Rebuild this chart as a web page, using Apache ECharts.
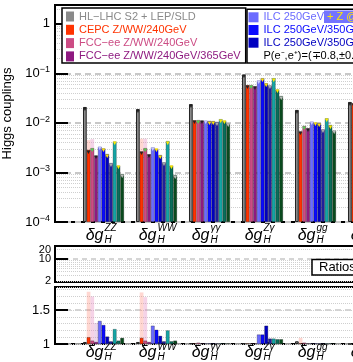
<!DOCTYPE html>
<html>
<head>
<meta charset="utf-8">
<script src="https://cdn.jsdelivr.net/npm/echarts@6/dist/echarts.min.js"></script>
<style>
  html, body { margin: 0; padding: 0; background: #fff; }
  #chart { width: 353px; height: 362px; }
</style>
</head>
<body>
<div id="chart"></div>
<script>
  // coupling groups (the last one is cut off by the picture edge)
  const couplings = ['ZZ', 'WW', 'γγ', 'Zγ', 'gg', 'tt'];

  const colliders = [
    'HL−LHC S2 + LEP/SLD',
    'CEPC Z/WW/240GeV',
    'FCC−ee Z/WW/240GeV',
    'FCC−ee Z/WW/240GeV/365GeV',
    'ILC 250GeV',
    'ILC 250GeV/350GeV',
    'ILC 250GeV/350GeV/500GeV',
    'ILC 250GeV/350GeV/500GeV/1TeV',
    'CLIC 380GeV',
    'CLIC 380GeV/1.5TeV',
    'CLIC 380GeV/1.5TeV/3TeV'
  ];
  const colors = ['#8a8a8a', '#ff3300', '#cc4c84', '#8e1a80', '#6b6bff', '#0a0aff',
                  '#0000c0', '#20209a', '#14a5a5', '#0a6e5a', '#0a4a1e'];
  const markerColors = ['#222', '#222', '#4fd24f', '#222', '#c8c8ff', '#ffe600',
                        '#ffe600', '#aaaaaa', '#ffe600', '#ffe600', '#bbbbbb'];

  // precision on the couplings (upper panel)
  const hllhc    = [0.021,   0.019,   0.024,  0.094, 0.0183, 0.0265];
  const cepc     = [0.00285, 0.00263, 0.0113, 0.058, 0.0067, 0.025];
  const fcc240   = [0.0031,  0.0031,  0.0114, 0.058, 0.0087, 0.025];
  const fcc365   = [0.00218, 0.00233, 0.0111, 0.055, 0.0078, 0.024];
  const ilc250   = [0.0033,  0.0032,  0.0111, 0.072, 0.0106, 0.025];
  const ilc350   = [0.00305, 0.0030,  0.0110, 0.080, 0.0101, 0.025];
  const ilc500   = [0.00236, 0.00225, 0.0109, 0.063, 0.0099, 0.02];
  const ilc1000  = [0.00155, 0.0016,  0.0105, 0.057, 0.0074, 0.02];
  const clic380  = [0.0042,  0.0043,  0.0119, 0.080, 0.0124, 0.03];
  const clic1500 = [0.00137, 0.00137, 0.0111, 0.047, 0.0091, 0.02];
  const clic3000 = [0.00093, 0.00089, 0.0097, 0.035, 0.0070, 0.02];
  const topValues = [hllhc, cepc, fcc240, fcc365, ilc250, ilc350, ilc500, ilc1000, clic380, clic1500, clic3000];

  // pale bars behind CEPC / FCC-ee
  const paleCepcTop   = [0.0045, 0.0048, null, null, null, null];
  const paleFcc240Top = [0.0047, 0.0048, null, null, null, null];

  // ratios (lower panel)
  const hllhcR    = [1.03, 1.03, 1.01, 1.01, 1.04, 1.0];
  const cepcR     = [1.10, 1.09, 1.01, 1.01, 1.01, 1.0];
  const fcc240R   = [1.05, 1.05, 1.02, 1.01, 1.02, 1.0];
  const fcc365R   = [1.03, 1.03, 1.01, 1.01, 1.01, 1.0];
  const ilc250R   = [1.34, 1.27, 1.01, 1.14, 1.01, 1.0];
  const ilc350R   = [1.28, 1.21, 1.01, 1.14, 1.01, 1.0];
  const ilc500R   = [1.11, 1.12, 1.01, 1.27, 1.01, 1.0];
  const ilc1000R  = [1.04, 1.04, 1.01, 1.08, 1.01, 1.0];
  const clic380R  = [1.22, 1.20, 1.01, 1.08, 1.01, 1.0];
  const clic1500R = [1.05, 1.04, 1.01, 1.07, 1.01, 1.0];
  const clic3000R = [1.09, 1.05, 1.01, 1.07, 1.01, 1.0];
  const ratioValues = [hllhcR, cepcR, fcc240R, fcc365R, ilc250R, ilc350R, ilc500R, ilc1000R, clic380R, clic1500R, clic3000R];

  const paleCepcR   = [1.77, 1.76, null, null, 1.09, null];
  const paleFcc240R = [1.70, 1.69, null, null, null, null];
  const paleFcc365R = [1.31, null, null, null, null, null];

  // tick labels
  const mainTicks = [1e-4, 1e-3, 1e-2, 1e-1, 1];
  const midMajor = [10];
  const midEdgeLabels = [2, 20];
  const midMinor = [2, 3, 4, 5, 6, 7, 8, 9, 20];
  const lowLabels = [1, 1.5];

  let mainMinor = [];
  [1e-4, 1e-3, 1e-2, 1e-1].forEach(d => {
    for (let k = 2; k <= 9; k++) mainMinor.push(k * d);
  });
  mainMinor.push(2);

  const FONT = '"Liberation Sans", Arial, Helvetica, sans-serif';
  let chart = echarts.init(document.getElementById('chart'));

  function frameGrid(top, height) {
    return { left: 55, top: top, width: 420, height: height, show: true,
             borderColor: '#000', borderWidth: 2, outerBoundsMode: 'none', containLabel: false };
  }
  function barGrid(top, height) {
    return { left: 77, top: top, width: 318, height: height, show: false,
             outerBoundsMode: 'none', containLabel: false };
  }
  function hiddenValueX(gridIndex) {
    return { type: 'value', gridIndex: gridIndex, min: 0, max: 1, show: false };
  }
  function catAxis(gridIndex, labels) {
    return Object.assign({
      type: 'category', gridIndex: gridIndex, data: couplings, position: 'bottom',
      axisLine: { show: false }, axisTick: { show: false }, splitLine: { show: false }
    }, { axisLabel: labels });
  }
  function deltaLabel(margin) {
    return { interval: 0, margin: margin, align: 'right', formatter: () => 'δg',
             fontStyle: 'italic', fontSize: 16, fontFamily: FONT, color: '#000' };
  }
  function supSubLabel(margin, lh) {
    return {
      interval: 0, margin: margin, align: 'left',
      formatter: v => '{u|' + v + '}\n{d|H}',
      rich: {
        u: { fontSize: 10, fontStyle: 'italic', fontFamily: FONT, color: '#000', lineHeight: lh, padding: [0, 0, 0, 1] },
        d: { fontSize: 10, fontStyle: 'italic', fontFamily: FONT, color: '#000', lineHeight: lh, padding: [0, 0, 0, 1] }
      }
    };
  }
  function minorAxis(base, ticks) {
    return Object.assign({
      axisLine: { show: false },
      axisLabel: { show: false },
      axisTick: { show: true, inside: true, length: 5, lineStyle: { color: '#000', width: 1 }, customValues: ticks },
      splitLine: { show: true, lineStyle: { color: '#cfcfcf', width: 1, type: 'dotted' } }
    }, base);
  }

  let option = {
    animation: false,
    backgroundColor: '#fff',
    textStyle: { fontFamily: FONT },
    grid: [
      frameGrid(5, 217),   // 0 main frame
      barGrid(5, 217),     // 1 main bars
      frameGrid(246, 36),  // 2 middle (ratios > 2)
      frameGrid(287, 57),  // 3 lower frame
      barGrid(287, 57)     // 4 lower bars
    ],
    xAxis: [
      hiddenValueX(0),
      catAxis(1, deltaLabel(6)),
      catAxis(1, supSubLabel(0, 12)),
      hiddenValueX(2),
      hiddenValueX(3),
      catAxis(4, deltaLabel(1)),
      catAxis(4, supSubLabel(-2, 10))
    ],
    yAxis: [
      { // 0 main labels + decades
        type: 'log', gridIndex: 0, min: 1e-4, max: 2.4,
        name: 'Higgs couplings', nameLocation: 'middle', nameGap: 40,
        nameTextStyle: { fontSize: 13, fontFamily: FONT, color: '#000' },
        axisLine: { show: true, lineStyle: { color: '#000', width: 2 } },
        axisTick: { show: true, inside: true, length: 13, lineStyle: { color: '#000', width: 2 }, customValues: mainTicks },
        axisLabel: {
          customValues: mainTicks, margin: 5, hideOverlap: false,
          formatter: v => {
            let n = Math.round(Math.log10(v));
            return n === 0 ? '{b|1}' : '{b|10}{s|−' + (-n) + '}';
          },
          rich: {
            b: { fontSize: 13, fontFamily: FONT, color: '#000', lineHeight: 16 },
            s: { fontSize: 9, fontFamily: FONT, color: '#000', lineHeight: 10, verticalAlign: 'top' }
          }
        },
        splitLine: { show: true, lineStyle: { color: '#c8c8c8', width: 2, type: [6, 4] } }
      },
      minorAxis({ type: 'log', gridIndex: 0, min: 1e-4, max: 2.4 }, mainMinor),   // 1
      { type: 'log', gridIndex: 1, min: 1e-4, max: 2.4, startValue: 1e-4, show: false, splitLine: { show: false } }, // 2
      { // 3 middle
        type: 'log', gridIndex: 2, min: 1.86, max: 25.9,
        axisLine: { show: true, lineStyle: { color: '#000', width: 2 } },
        axisTick: { show: true, inside: true, length: 13, lineStyle: { color: '#000', width: 2 }, customValues: midMajor },
        axisLabel: { customValues: midMajor, margin: 4, fontSize: 11, fontFamily: FONT, color: '#000' },
        splitLine: { show: true, lineStyle: { color: '#c8c8c8', width: 1.5, type: [5, 4] } }
      },
      minorAxis({ type: 'log', gridIndex: 2, min: 1.86, max: 25.9 }, midMinor),   // 4
      { // 5 lower
        type: 'value', gridIndex: 3, min: 1, max: 1.84,
        axisLine: { show: true, lineStyle: { color: '#000', width: 2 } },
        axisTick: { show: true, inside: true, length: 13, lineStyle: { color: '#000', width: 2 }, customValues: lowLabels },
        axisLabel: { customValues: lowLabels, margin: 5, fontSize: 13, fontFamily: FONT, color: '#000' },
        splitLine: { show: true, lineStyle: { color: '#c8c8c8', width: 1.5, type: [6, 4] } }
      },
      Object.assign(minorAxis({ type: 'value', gridIndex: 3, min: 1, max: 1.84, interval: 0.1 }), {  // 6
        axisTick: { show: true, inside: true, length: 5, lineStyle: { color: '#000', width: 1 } }
      }),
      { type: 'value', gridIndex: 4, min: 1, max: 1.84, startValue: 1, show: false, splitLine: { show: false } } // 7
    ],
    legend: [
      {
        data: colliders.slice(0, 4).map((n, i) => ({ name: n, textStyle: { color: colors[i] } })),
        orient: 'vertical', left: 62, top: 8, icon: 'rect', itemWidth: 8, itemHeight: 10, itemGap: 1.3,
        padding: [2.5, 5, 0.5, 4], borderColor: '#000', borderWidth: 1.5, backgroundColor: '#fff',
        selectedMode: false, itemStyle: { borderWidth: 0 },
        textStyle: { fontSize: 11, fontFamily: FONT, lineHeight: 12 }
      },
      {
        data: colliders.slice(4, 7).map((n, i) => ({ name: n, textStyle: { color: colors[i + 4] } })),
        orient: 'vertical', left: 247, top: 9.3, icon: 'rect', itemWidth: 10, itemHeight: 10, itemGap: 0.7,
        padding: [2, 120, 14.3, 1.5], borderColor: '#000', borderWidth: 1.5, backgroundColor: '#fff',
        selectedMode: false, itemStyle: { borderWidth: 0 },
        textStyle: { fontSize: 11, fontFamily: FONT, lineHeight: 12 }
      }
    ],
    graphic: [
      { id: 'zbox', type: 'rect', z: 10, shape: { x: 324, y: 10.5, width: 40, height: 12.5 }, style: { fill: '#7373ff' } },
      { id: 'ztxt', type: 'text', z: 11, x: 327, y: 17, style: { text: '+ Z @', fill: '#ffe800', font: '11px ' + FONT, verticalAlign: 'middle' } },
      { id: 'pol', type: 'text', z: 11, x: 263.5, y: 56, style: { text: 'P(e⁻,e⁺)=(∓0.8,±0.3)', fill: '#000', font: '11px ' + FONT, verticalAlign: 'middle' } },
      { id: 'rbox', type: 'rect', z: 10, shape: { x: 312, y: 259.5, width: 60, height: 15.5 }, style: { fill: '#fff', stroke: '#000', lineWidth: 1.5 } },
      { id: 'rtxt', type: 'text', z: 11, x: 319, y: 267.5, style: { text: 'Ratios', fill: '#000', font: '13px ' + FONT, verticalAlign: 'middle' } }
    ],
    series: []
  };

  const paleTop = [[], paleCepcTop, paleFcc240Top, [], [], [], [], [], [], [], []];
  const paleRatio = [[], paleCepcR, paleFcc240R, paleFcc365R, [], [], [], [], [], [], []];
  const paleColors = ['#ddd', 'rgba(255,110,90,0.28)', 'rgba(225,130,185,0.35)', 'rgba(190,120,190,0.3)',
                      '#ddd', '#ddd', '#ddd', '#ddd', '#ddd', '#ddd', '#ddd'];

  colliders.forEach((name, i) => {
    let style = {
      color: colors[i],
      borderColor: i === 0 ? '#222' : 'rgba(0,0,0,0.5)',
      borderWidth: i === 0 ? 1 : 0.5
    };
    option.series.push({
      name: name, type: 'bar', xAxisIndex: 1, yAxisIndex: 2, data: topValues[i],
      barGap: 0, barCategoryGap: '22.6%', itemStyle: style, z: 3,
      label: { show: true, position: 'insideTop', distance: -1, formatter: '▼', fontSize: 6, color: markerColors[i] }
    });
    option.series.push({
      name: name, type: 'bar', xAxisIndex: 5, yAxisIndex: 7, data: ratioValues[i],
      barGap: 0, barCategoryGap: '22.6%', itemStyle: style, z: 3
    });
  });
  colliders.forEach((name, i) => {
    option.series.push({
      name: name + ' pale', type: 'bar', xAxisIndex: 2, yAxisIndex: 2, data: paleTop[i],
      barGap: 0, barCategoryGap: '22.6%', itemStyle: { color: paleColors[i] }, z: 1
    });
    option.series.push({
      name: name + ' pale', type: 'bar', xAxisIndex: 6, yAxisIndex: 7, data: paleRatio[i],
      barGap: 0, barCategoryGap: '22.6%', itemStyle: { color: paleColors[i] }, z: 1
    });
  });

  chart.setOption(option);

  // the 2 and 20 labels of the middle panel sit too close to "10" for the axis
  // label layout, so place them through the axis scale
  let extra = midEdgeLabels.map((v, k) => ({
    id: 'midlab' + k, type: 'text', z: 11,
    x: 51, y: chart.convertToPixel({ yAxisIndex: 3 }, v),
    style: { text: String(v), fill: '#000', font: '11px ' + FONT, align: 'right', verticalAlign: 'middle' }
  }));
  chart.setOption({ graphic: extra });
</script>
</body>
</html>
